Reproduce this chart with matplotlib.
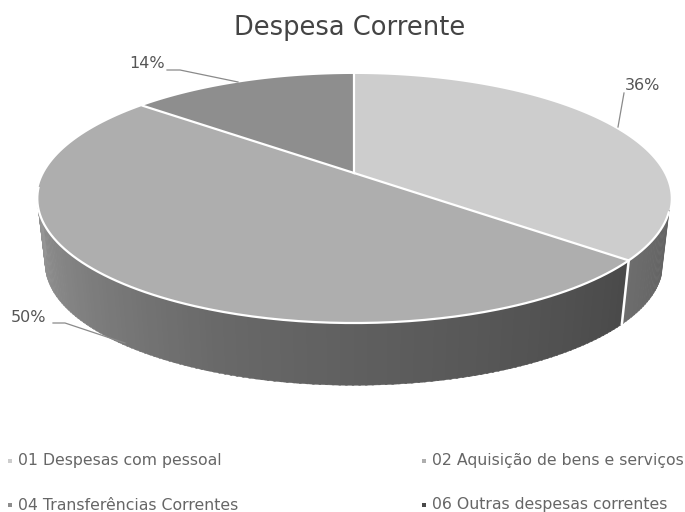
import numpy as np
import matplotlib
matplotlib.use('Agg')
import matplotlib.pyplot as plt

title = 'Despesa Corrente'
categories = ['01 Despesas com pessoal', '02 Aquisição de bens e serviços',
              '04 Transferências Correntes', '06 Outras despesas correntes']
# 4th category has no visible slice in the picture
values = [36, 50, 14, 0]
slice_colors = ['#cdcdcd', '#aeaeae', '#8e8e8e', '#6a6a6a']
legend_colors = ['#cdcdcd', '#aeaeae', '#8e8e8e', '#4a4a4a']

plt.rcParams['font.family'] = ['DejaVu Sans']

# tilted pie: circle seen through a perspective, in pixel coordinates
cx, cy = 354, 173
a, b, k = 310, 119.3, 0.2048
wall_scale, wall_drop = 0.975, 66


def top_rim(theta):
    u, v = np.sin(theta), np.cos(theta)
    den = 1 + k * v
    return cx + a * u / den, cy - b * v / den


def bottom_rim(theta):
    u, v = np.sin(theta), np.cos(theta)
    den = 1 + k * v
    return cx + wall_scale * a * u / den, cy + wall_drop - wall_scale * b * v / den


def wall_grey(deg, first_slice):
    if first_slice:
        return np.interp(deg, [95, 130], [0.36, 0.43])
    return np.interp(deg, [130, 200, 240, 280], [0.29, 0.41, 0.53, 0.64])


fig = plt.figure(figsize=(6.85, 5.12), dpi=100)
ax = fig.add_axes([0, 0, 1, 1])
ax.set_xlim(0, 685)
ax.set_ylim(512, 0)
ax.axis('off')

fracs = np.array(values) / sum(values)
edges = np.concatenate([[0], np.cumsum(fracs)]) * 2 * np.pi

# side wall, thin strips so the shading runs round the rim
for deg in np.arange(107, 263, 1.0):
    t = np.radians([deg, deg + 1.3])
    x1, y1 = top_rim(t)
    x2, y2 = bottom_rim(t)
    g = wall_grey(deg, deg < np.degrees(edges[1]))
    ax.fill([x1[0], x1[1], x2[1], x2[0]], [y1[0], y1[1], y2[1], y2[0]],
            color=str(g), lw=0.3, zorder=1)

# top faces
for i in range(3):
    t = np.linspace(edges[i], edges[i + 1], 120)
    x, y = top_rim(t)
    ax.fill(np.r_[cx, x], np.r_[cy, y], color=slice_colors[i], lw=0, zorder=2)

# white separators
for e in edges[:3]:
    x, y = top_rim(e)
    ax.plot([cx, x], [cy, y], color='white', lw=1.6, zorder=3)

t = np.radians(np.linspace(108, 263, 200))
x, y = top_rim(t)
ax.plot(x, y, color='white', lw=1.6, zorder=3)

x1, y1 = top_rim(edges[1])
x2, y2 = bottom_rim(edges[1])
ax.plot([x1, x2], [y1, y2], color='white', lw=1.8, zorder=3)

# data labels and leader lines, same order as values
pct = ['%d%%' % v for v in values[:3]]
label_pos = [(643, 86), (29, 318), (147, 64)]
leaders = [([624, 618], [93, 127]),
           ([53, 65, 125], [323, 323, 343]),
           ([167, 180, 238], [70, 70, 82])]
for s, p, l in zip(pct, label_pos, leaders):
    ax.text(p[0], p[1], s, ha='center', va='center', fontsize=11.5, color='#555555')
    ax.plot(l[0], l[1], color='#8a8a8a', lw=0.9, zorder=4)

ax.text(350, 28, title, ha='center', va='center', fontsize=18.5, color='#444444')

# legend
legend_x = [10, 424, 10, 424]
legend_y = [461, 461, 505, 505]
for name, col, lx, ly in zip(categories, legend_colors, legend_x, legend_y):
    ax.scatter([lx], [ly], marker='s', s=12, color=col, lw=0)
    ax.text(lx + 8, ly, name, ha='left', va='center', fontsize=11.3, color='#666666')

fig.savefig('out.png', dpi=100)
